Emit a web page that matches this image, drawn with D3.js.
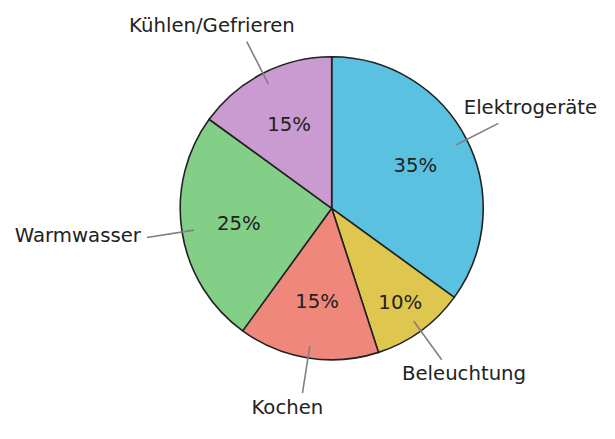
<!DOCTYPE html>
<html>
<head>
<meta charset="utf-8">
<script src="https://cdn.jsdelivr.net/npm/d3@7"></script>
<style>
  html,body{margin:0;padding:0;background:#fff;}
  text{font-family:"DejaVu Sans",sans-serif;}
</style>
</head>
<body>
<svg id="chart" width="615" height="439"></svg>
<script>
// data
const categories = ["Elektrogeräte","Beleuchtung","Kochen","Warmwasser","Kühlen/Gefrieren"];
const shares     = [35, 10, 15, 25, 15];
const colors     = ["#5bc1e1","#dfc64f","#f0877b","#83cf88","#c99bd0"];

const W=615, H=439, cx=331.7, cy=208.3, R=151.5, fs=19.7;
const svg=d3.select("#chart");
const g=svg.append("g").attr("transform","translate("+cx+","+cy+")");

const pie=d3.pie().sort(null).value(d=>d.v);
const arcs=pie(categories.map((c,i)=>({c:c,v:shares[i],col:colors[i]})));
const arc=d3.arc().innerRadius(0).outerRadius(R);

g.selectAll("path.slice").data(arcs).enter().append("path")
  .attr("class","slice")
  .attr("d",arc)
  .style("fill",d=>d.data.col)
  .style("stroke","#222")
  .style("stroke-width",1.6)
  .style("stroke-linejoin","round");

function mid(d){return (d.startAngle+d.endAngle)/2;}
function pt(a,r){return [Math.sin(a)*r,-Math.cos(a)*r];}

// percent labels, pushed out a bit on thin slices
g.selectAll("text.pct").data(arcs).enter().append("text")
  .attr("class","pct")
  .attr("x",d=>pt(mid(d),R*(d.data.v<12?0.77:0.62))[0])
  .attr("y",d=>pt(mid(d),R*(d.data.v<12?0.77:0.62))[1])
  .attr("dy","0.34em")
  .attr("text-anchor","middle")
  .style("font-size",fs+"px")
  .style("fill","#222")
  .text(d=>d.data.v+"%");

// leader lines
g.selectAll("line.lead").data(arcs).enter().append("line")
  .attr("class","lead")
  .attr("x1",d=>pt(mid(d),R*0.92)[0]).attr("y1",d=>pt(mid(d),R*0.92)[1])
  .attr("x2",d=>pt(mid(d),R*1.235)[0]).attr("y2",d=>pt(mid(d),R*1.235)[1])
  .style("stroke","#808080").style("stroke-width",1.6);

// category labels placed just off the leader end
const lab=g.selectAll("text.lab").data(arcs).enter().append("text")
  .attr("class","lab")
  .attr("text-anchor","middle")
  .attr("dy","0.42em")
  .style("font-size",fs+"px")
  .style("fill","#222")
  .text(d=>d.data.c);
lab.each(function(d){
  const t=d3.select(this), hw=this.getComputedTextLength()/2;
  const a=mid(d), ux=Math.sin(a), uy=-Math.cos(a);
  const e=pt(a,R*1.235);
  let dx, dy;
  if(Math.abs(uy)>0.3){dx=Math.sign(ux)*hw*(ux>0?(uy<0?0.48:0.36):0.42); dy=uy<0?-18:12.5;}
  else {dx=Math.sign(ux)*(hw+6); dy=-4;}
  t.attr("x",e[0]+dx).attr("y",e[1]+dy);
});
</script>
</body>
</html>
